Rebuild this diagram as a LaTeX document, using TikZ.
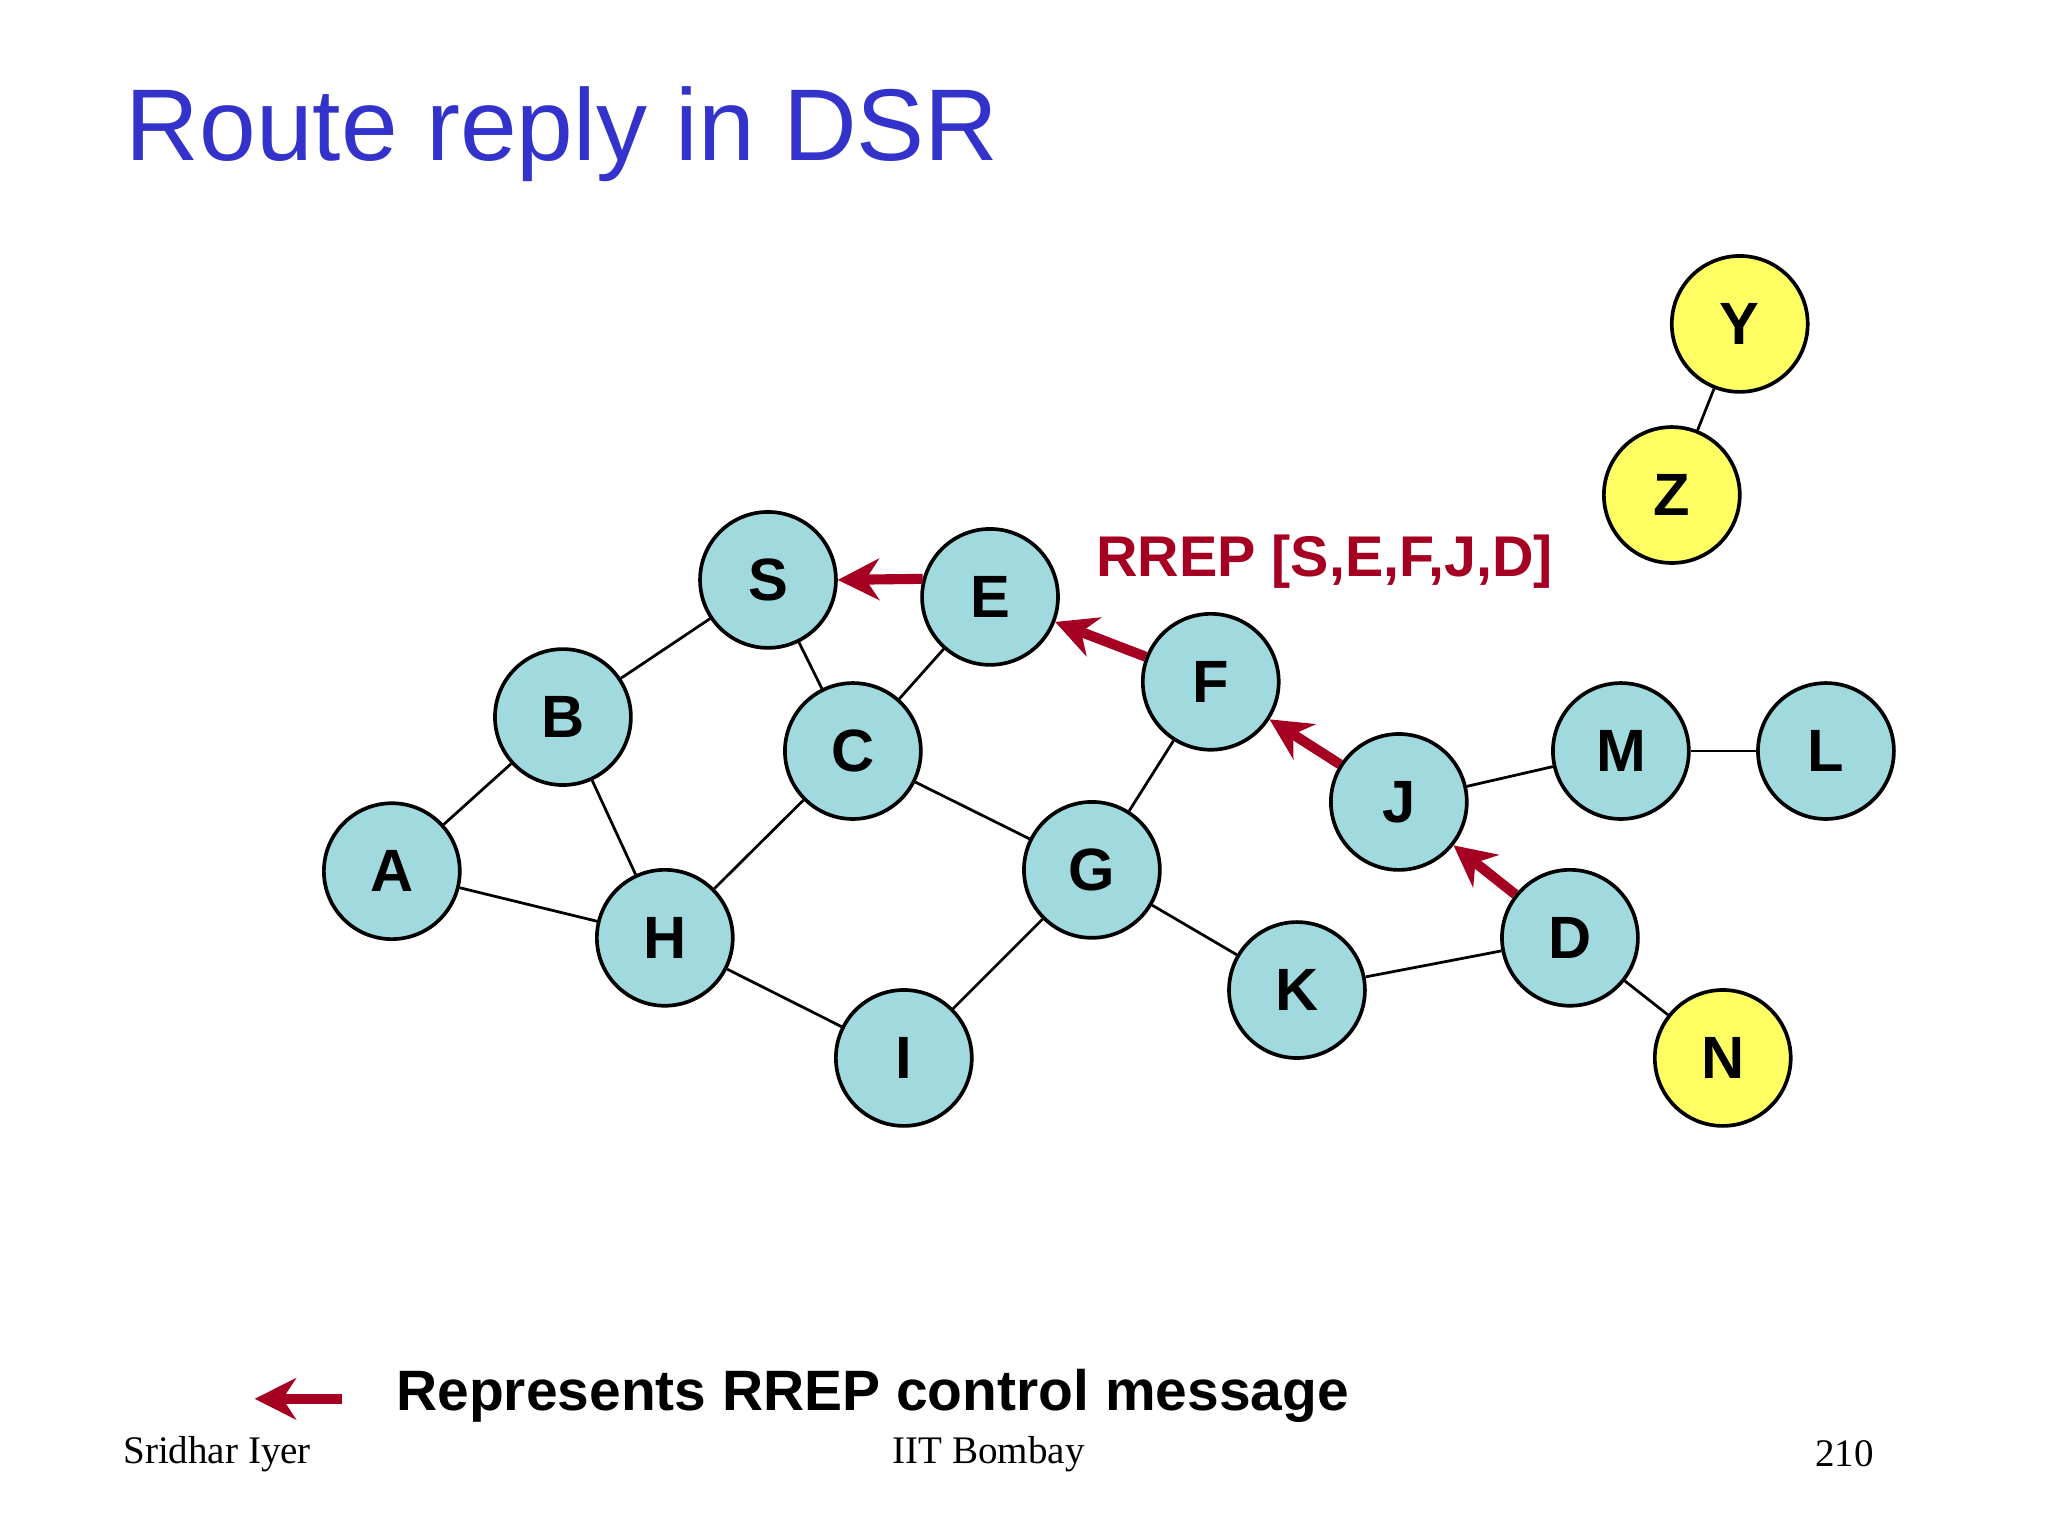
\documentclass[tikz,border=0pt]{standalone}
\usepackage{fontspec}
\setmainfont{Liberation Sans}
\newfontfamily\tnr{Liberation Serif}
\usetikzlibrary{arrows.meta}
\definecolor{nodecyan}{RGB}{160,218,222}
\definecolor{nodeyel}{RGB}{255,255,100}
\definecolor{rrep}{RGB}{165,0,33}
\definecolor{titleblue}{RGB}{51,51,204}
\begin{document}
\begin{tikzpicture}[x=0.01cm,y=-0.01cm,
  nd/.style={circle,draw=black,line width=0.8pt,fill=nodecyan,minimum size=1.04cm,inner sep=0pt,font=\fontsize{13}{13}\selectfont\bfseries},
  yl/.style={nd,fill=nodeyel},
  ln/.style={line width=0.6pt},
  rr/.style={draw=rrep,line width=2.2pt,-{Stealth[length=9pt,width=9pt]}}]
\useasboundingbox (0,0) rectangle (1568,1176);
\node[anchor=west,text=titleblue,font=\fontsize{22.2}{22.2}\selectfont] (title) at (84,103) {Route reply in DSR};
\node[nd] (S) at (588,444) {S};
\node[nd] (E) at (758,457) {E};
\node[nd] (B) at (431,549) {B};
\node[nd] (C) at (653,575) {C};
\node[nd] (F) at (927,522) {F};
\node[nd] (J) at (1071,614) {J};
\node[nd] (M) at (1241,575) {M};
\node[nd] (L) at (1398,575) {L};
\node[nd] (A) at (300,667) {A};
\node[nd] (G) at (836,666) {G};
\node[nd] (H) at (509,718) {H};
\node[nd] (D) at (1202,718) {D};
\node[nd] (K) at (993,758) {K};
\node[nd] (I) at (692,810) {I};
\node[yl] (N) at (1319,810) {N};
\node[yl] (Y) at (1332,248) {Y};
\node[yl] (Z) at (1280,379) {Z};
\foreach \a/\b in {S/B,S/C,E/C,B/A,B/H,A/H,C/H,C/G,H/I,G/I,G/F,G/K,K/D,D/N,J/M,M/L,Y/Z}
  \draw[ln] (\a) -- (\b);
\draw[rr] (E.165) -- (S.east);
\draw[rr] (F) -- (E);
\draw[rr] (J) -- (F);
\draw[rr] (D) -- (J);
\node[anchor=west,text=rrep,font=\fontsize{12.5}{12.5}\selectfont\bfseries] (lab) at (827,430) {RREP [S,E,F,J,D]};
\coordinate (l1) at (262,1071);
\coordinate (l2) at (195,1071);
\draw[rr] (l1) -- (l2);
\node[anchor=west,font=\fontsize{12.4}{12.4}\selectfont\bfseries] (leg) at (291,1069) {Represents RREP control message};
\node[anchor=west,font=\tnr\fontsize{8.5}{8.5}\selectfont] (f1) at (82,1113) {Sridhar Iyer};
\node[font=\tnr\fontsize{8.5}{8.5}\selectfont] (f2) at (757,1113) {IIT Bombay};
\node[anchor=east,font=\tnr\fontsize{8.5}{8.5}\selectfont] (f3) at (1447,1113) {210};
\end{tikzpicture}
\end{document}
